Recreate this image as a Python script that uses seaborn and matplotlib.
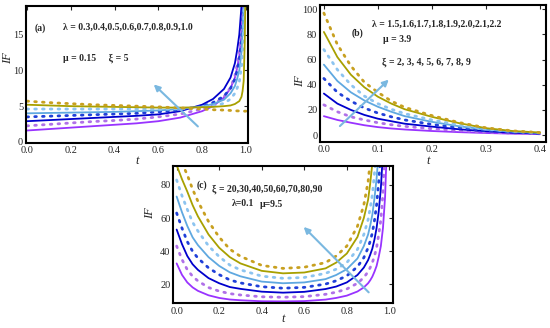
import numpy as np
import pandas as pd
import matplotlib
matplotlib.use("Agg")
import matplotlib.pyplot as plt
import seaborn as sns

sns.set_style("white")
plt.rcParams['font.family'] = ['Liberation Serif', 'DejaVu Serif']

# curve styles, bottom curve first
colors = ['#9933ff', '#b070e8', '#0000cc', '#2040d8', '#5fa8e0', '#8cc4f0', '#a8a000', '#c8a020']
dotted = [False, True, False, True, False, True, False, True]

# ---- panel (a) ----
t_a = [0, 0.1, 0.2, 0.3, 0.4, 0.5, 0.6, 0.7, 0.8, 0.85, 0.9, 0.93, 0.95, 0.96, 0.97, 0.98, 0.985, 0.99, 0.995, 1.0]
a_purple = [1.6, 1.8, 2.0, 2.2, 2.4, 2.6, 2.9, 3.4, 4.3, 5.0, 6.2, 7.5, 9.0, 10.3, 12, 15, 18, 22, 30, 40]
a_pdot = [2.25, 2.45, 2.65, 2.85, 3.0, 3.2, 3.5, 3.9, 4.6, 5.2, 6.3, 7.6, 9.2, 10.7, 12.5, 16, 19.5, 24, 31, 40]
a_blue = [2.9, 3.05, 3.2, 3.35, 3.5, 3.65, 3.85, 4.3, 5.2, 6.0, 7.4, 9.0, 11, 12.8, 15, 19, 23, 28, 34, 40]
a_bdot = [3.5, 3.6, 3.7, 3.8, 3.9, 4.0, 4.2, 4.5, 5.0, 5.5, 6.4, 7.5, 8.8, 10, 11.5, 14, 17, 21, 29, 40]
a_lblue = [4.0, 4.05, 4.1, 4.15, 4.2, 4.3, 4.4, 4.6, 4.95, 5.3, 5.9, 6.8, 7.8, 8.8, 10, 12.5, 15.3, 19, 28, 40]
a_ldot = [4.6, 4.6, 4.6, 4.6, 4.6, 4.6, 4.6, 4.65, 4.8, 5.0, 5.4, 6.0, 6.8, 7.5, 8.4, 10.5, 12.8, 16, 26, 40]
a_olive = [5.2, 5.1, 5.0, 4.95, 4.9, 4.85, 4.8, 4.8, 4.85, 4.9, 5.0, 5.1, 5.3, 5.5, 5.7, 6.3, 7.1, 8.5, 14, 25]
a_gold = [5.7, 5.5, 5.35, 5.2, 5.1, 5.0, 4.9, 4.75, 4.6, 4.5, 4.45, 4.4, 4.35, 4.34, 4.33, 4.32, 4.31, 4.3, 4.3, 4.3]

# ---- panel (b) ----
t_b = [0, 0.025, 0.05, 0.075, 0.1, 0.125, 0.15, 0.2, 0.25, 0.3, 0.35, 0.4]
b_purple = [15, 12, 9.8, 7.8, 6.3, 5.2, 4.4, 3.2, 2.3, 1.6, 1.1, 0.8]
b_pdot = [24, 18.5, 14.5, 12, 9.8, 8.2, 6.9, 5, 3.5, 2.3, 1.5, 1.0]
b_blue = [33, 25, 20, 16, 13, 11, 9, 6.7, 4.6, 3.0, 1.9, 1.2]
b_bdot = [45, 34, 27, 21.5, 17.5, 14.5, 12, 8.5, 5.7, 3.6, 2.2, 1.4]
b_lblue = [56, 43, 34, 27.5, 22.5, 18.5, 15, 10.5, 7, 4.3, 2.6, 1.6]
b_ldot = [68, 52, 40, 31, 25, 20.5, 17, 12, 8, 4.8, 2.9, 1.8]
b_olive = [82, 62, 48, 38, 30.5, 25, 20.5, 14.5, 9.5, 5.5, 3.2, 2.0]
b_gold = [97, 72, 55, 42, 34, 27, 22, 15.5, 10, 5.8, 3.3, 2.0]

# ---- panel (c) ----
t_c = [0, 0.025, 0.05, 0.075, 0.1, 0.15, 0.2, 0.25, 0.3, 0.4, 0.5, 0.6, 0.7, 0.75, 0.8, 0.85, 0.88,
       0.9, 0.91, 0.92, 0.93, 0.94, 0.95, 0.96, 0.97, 0.98, 0.99]
c_purple = [32.5, 25.6, 21.0, 18.0, 15.9, 13.2, 11.6, 10.65, 10.2, 9.6, 9.5, 9.7, 10.6, 11.6, 13, 15.5, 18,
            20.5, 22.3, 24.5, 27.5, 31, 36.5, 43, 54, 73, 110]
c_pdot = [43, 34.9, 28.7, 24.7, 21.9, 17.9, 15.7, 14.2, 13.4, 12.3, 12.0, 12.4, 13.8, 15.1, 17, 20.5, 24,
          27.5, 30, 33, 37, 42, 50, 59, 75, 105, 150]
c_blue = [53, 44.2, 37.0, 32.0, 28.6, 23.6, 20.5, 18.2, 17.1, 15.4, 14.8, 15.3, 17, 18.5, 21, 25.5, 30,
          34.5, 37.8, 41.5, 47, 54, 64, 78, 100, 140, 200]
c_bdot = [63, 53.9, 45.7, 39.8, 35.7, 29.8, 25.7, 22.5, 20.7, 18.4, 17.5, 18, 20, 22, 25, 30.5, 36,
          42, 46, 51, 58.5, 68, 82, 100, 130, 200, 200]
c_lblue = [73, 63.5, 55.2, 48.3, 43.6, 36.3, 31.0, 27.1, 24.7, 21.5, 20.5, 21, 23, 25.5, 29, 35.5, 43,
           50, 55.5, 62, 72, 84, 100, 120, 200, 200, 200]
c_ldot = [83, 73.5, 65.2, 57.4, 52.1, 43.1, 36.6, 31.5, 28.6, 24.8, 23.5, 24, 26.5, 29, 33, 41, 50,
          59, 66, 74, 87, 102, 123, 150, 200, 200, 200]
c_olive = [92, 83.5, 76.0, 67.8, 61.0, 50.0, 42.0, 36.3, 32.5, 28.0, 26.5, 27, 29.5, 33, 38.5, 48.5, 60,
           71, 81, 93, 110, 130, 155, 180, 200, 200, 200]
c_gold = [102, 93.3, 86.1, 77.4, 70.1, 57.8, 48.4, 41.1, 36.8, 31.3, 29.5, 30.2, 33, 37, 43, 55, 68,
          82, 94, 110, 128, 150, 175, 200, 200, 200, 200]

panels = [
    dict(t=t_a, ys=[a_purple, a_pdot, a_blue, a_bdot, a_lblue, a_ldot, a_olive, a_gold],
         rect=[0.047, 0.565, 0.404, 0.417], xlim=(-0.005, 1.01), ylim=(-0.1, 19),
         xticks=[0, 0.2, 0.4, 0.6, 0.8, 1.0], yticks=[0, 5, 10, 15],
         ylab=(-0.054, 0.62), xlab=(0.5, -0.09),
         arrow=((0.79, 1.9), (0.57, 8.3)),
         texts=[((0.04, 0.84), '(a)'), ((0.167, 0.84), 'λ = 0.3,0.4,0.5,0.6,0.7,0.8,0.9,1.0'),
                ((0.167, 0.62), 'μ = 0.15     ξ = 5')]),
    dict(t=t_b, ys=[b_purple, b_pdot, b_blue, b_bdot, b_lblue, b_ldot, b_olive, b_gold],
         rect=[0.582, 0.568, 0.411, 0.417], xlim=(-0.007, 0.412), ylim=(-5.3, 103.5),
         xticks=[0, 0.1, 0.2, 0.3, 0.4], yticks=[0, 20, 40, 60, 80, 100],
         ylab=(-0.062, 0.44), xlab=(0.478, -0.097),
         arrow=((0.026, 5.6), (0.124, 45.6)),
         texts=[((0.14, 0.795), '(b)'), ((0.23, 0.86), 'λ = 1.5,1.6,1.7,1.8,1.9,2.0,2.1,2.2'),
                ((0.28, 0.744), 'μ = 3.9'), ((0.275, 0.583), 'ξ = 2, 3, 4, 5, 6, 7, 8, 9')]),
    dict(t=t_c, ys=[c_purple, c_pdot, c_blue, c_bdot, c_lblue, c_ldot, c_olive, c_gold],
         rect=[0.315, 0.075, 0.3995, 0.419], xlim=(-0.016, 1.017), ylim=(8.3, 91.5),
         xticks=[0, 0.2, 0.4, 0.6, 0.8, 1.0], yticks=[20, 40, 60, 80],
         ylab=(-0.079, 0.66), xlab=(0.5, -0.07),
         arrow=((0.912, 13.8), (0.588, 55.8)),
         texts=[((0.108, 0.86), '(c)'), ((0.176, 0.832), 'ξ = 20,30,40,50,60,70,80,90'),
                ((0.267, 0.73), 'λ=0.1'), ((0.395, 0.716), 'μ=9.5')]),
]

fig = plt.figure(figsize=(5.5, 3.28), dpi=100)

for p in panels:
    ax = fig.add_axes(p['rect'])
    for y, c, d in zip(p['ys'], colors, dotted):
        if d:
            sns.lineplot(x=p['t'], y=y, ax=ax, color=c, lw=2.0, linestyle=(0, (0.6, 2.2)),
                         dash_capstyle='round')
        else:
            sns.lineplot(x=p['t'], y=y, ax=ax, color=c, lw=1.3)
    ax.set_xlim(*p['xlim'])
    ax.set_ylim(*p['ylim'])
    ax.set_xticks(p['xticks'])
    ax.set_xticklabels([f'{v:.1f}' for v in p['xticks']])
    ax.set_yticks(p['yticks'])
    ax.tick_params(direction='in', length=3, width=0.8, labelsize=7.5,
                   top=True, right=True)
    ax.tick_params(axis='x', pad=2.5)
    ax.tick_params(axis='y', pad=2)
    for s in ax.spines.values():
        s.set_color('black')
        s.set_linewidth(1.5)
    ax.set_xlabel('t', fontsize=9, fontstyle='italic')
    ax.set_ylabel('IF', fontsize=9, fontstyle='italic')
    ax.xaxis.set_label_coords(*p['xlab'])
    ax.yaxis.set_label_coords(*p['ylab'])
    (x0, y0), (x1, y1) = p['arrow']
    ax.annotate('', xy=(x1, y1), xytext=(x0, y0),
                arrowprops=dict(arrowstyle='-|>', color='#7ab8e0', lw=1.5, mutation_scale=9))
    for (tx, ty), s in p['texts']:
        ax.text(tx, ty, s, transform=ax.transAxes, fontsize=7, fontweight='bold', va='center')

fig.savefig('out.png', dpi=100)
